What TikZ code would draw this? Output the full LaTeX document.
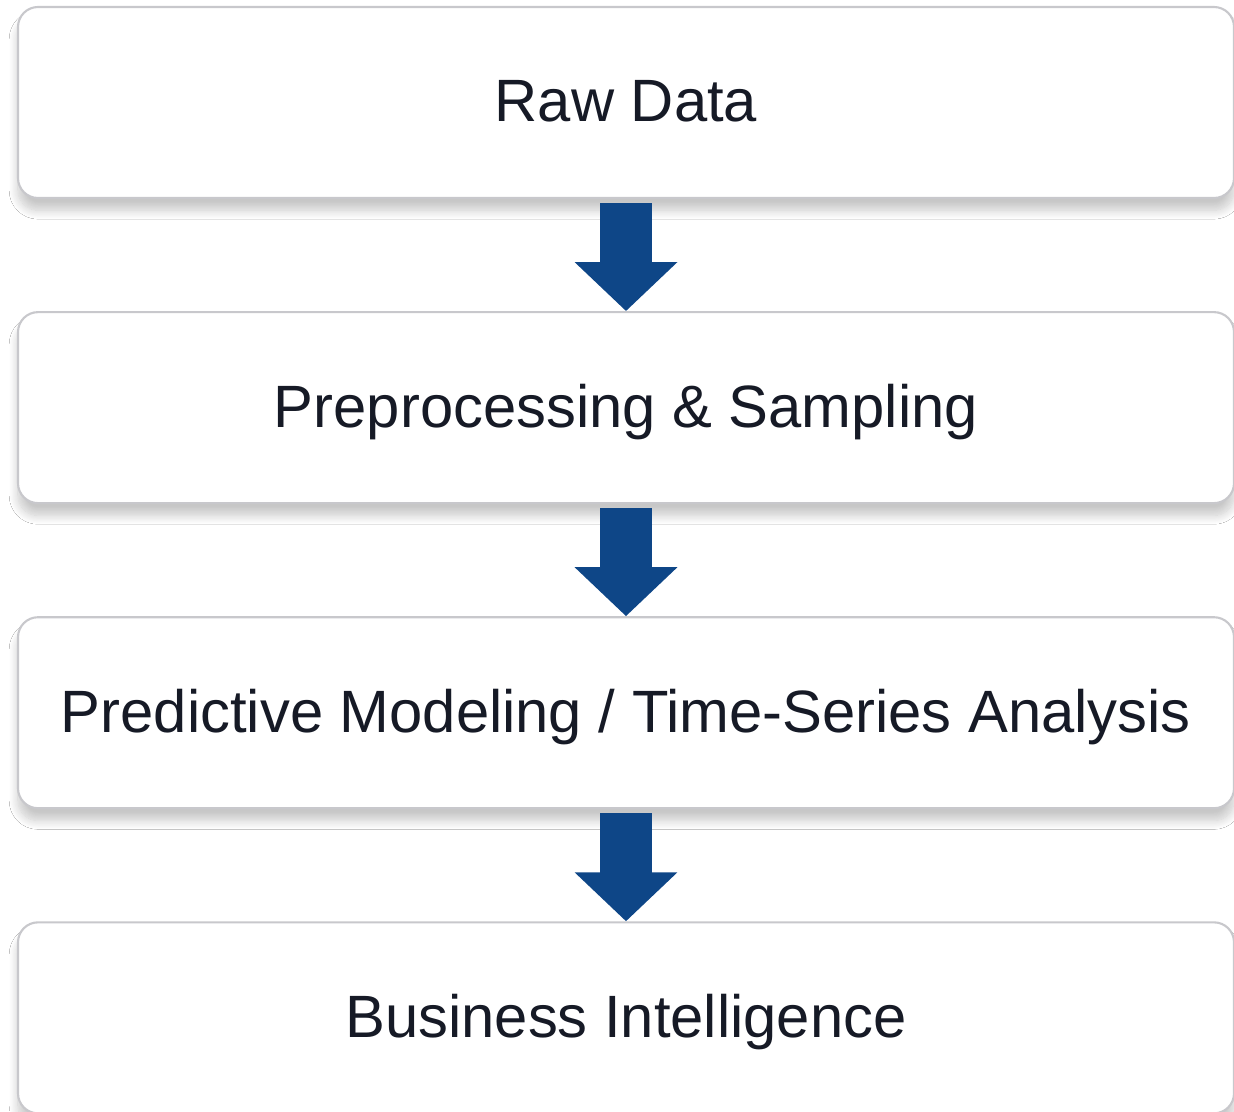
\documentclass[tikz,border=0pt]{standalone}
\usepackage{fontspec}
\setmainfont{Liberation Sans}
\usetikzlibrary{arrows.meta,positioning,shadows.blur}
\definecolor{arrowblue}{RGB}{14,70,135}
\definecolor{boxline}{RGB}{200,200,204}
\definecolor{textdark}{RGB}{22,26,38}
\tikzset{
	stagebox/.style={draw=boxline, line width=1.2pt, fill=white, rounded corners=0.4cm,
		minimum width=24.32cm, minimum height=3.82cm, text=textdark, font=\fontsize{34}{40}\selectfont,
		blur shadow={shadow xshift=0pt, shadow yshift=-7pt, shadow blur radius=5pt, shadow blur steps=12, shadow opacity=22}},
	flowarrow/.style={draw=arrowblue, line width=1.04cm, -{Triangle[length=0.98cm, width=2cm, fill=arrowblue]}}
}
\begin{document}
	\begin{tikzpicture}
		\useasboundingbox[fill=white] (0, 0) rectangle (24.68, -22.22);
		\node[stagebox, text depth=0.06cm] (raw) at (12.52, -2.05) {Raw Data};
		\node[stagebox, text depth=0.06cm, below=2.24cm of raw] (prep) {Preprocessing \& Sampling};
		\node[stagebox, text depth=0.06cm, below=2.24cm of prep] (model) {Predictive Modeling / Time-Series Analysis};
		\node[stagebox, text depth=0.06cm, below=2.24cm of model] (bi) {Business Intelligence};
		\draw[flowarrow] ([yshift=-0.08cm]raw.south) -- (prep.north);
		\draw[flowarrow] ([yshift=-0.08cm]prep.south) -- (model.north);
		\draw[flowarrow] ([yshift=-0.08cm]model.south) -- (bi.north);
	\end{tikzpicture}
\end{document}
